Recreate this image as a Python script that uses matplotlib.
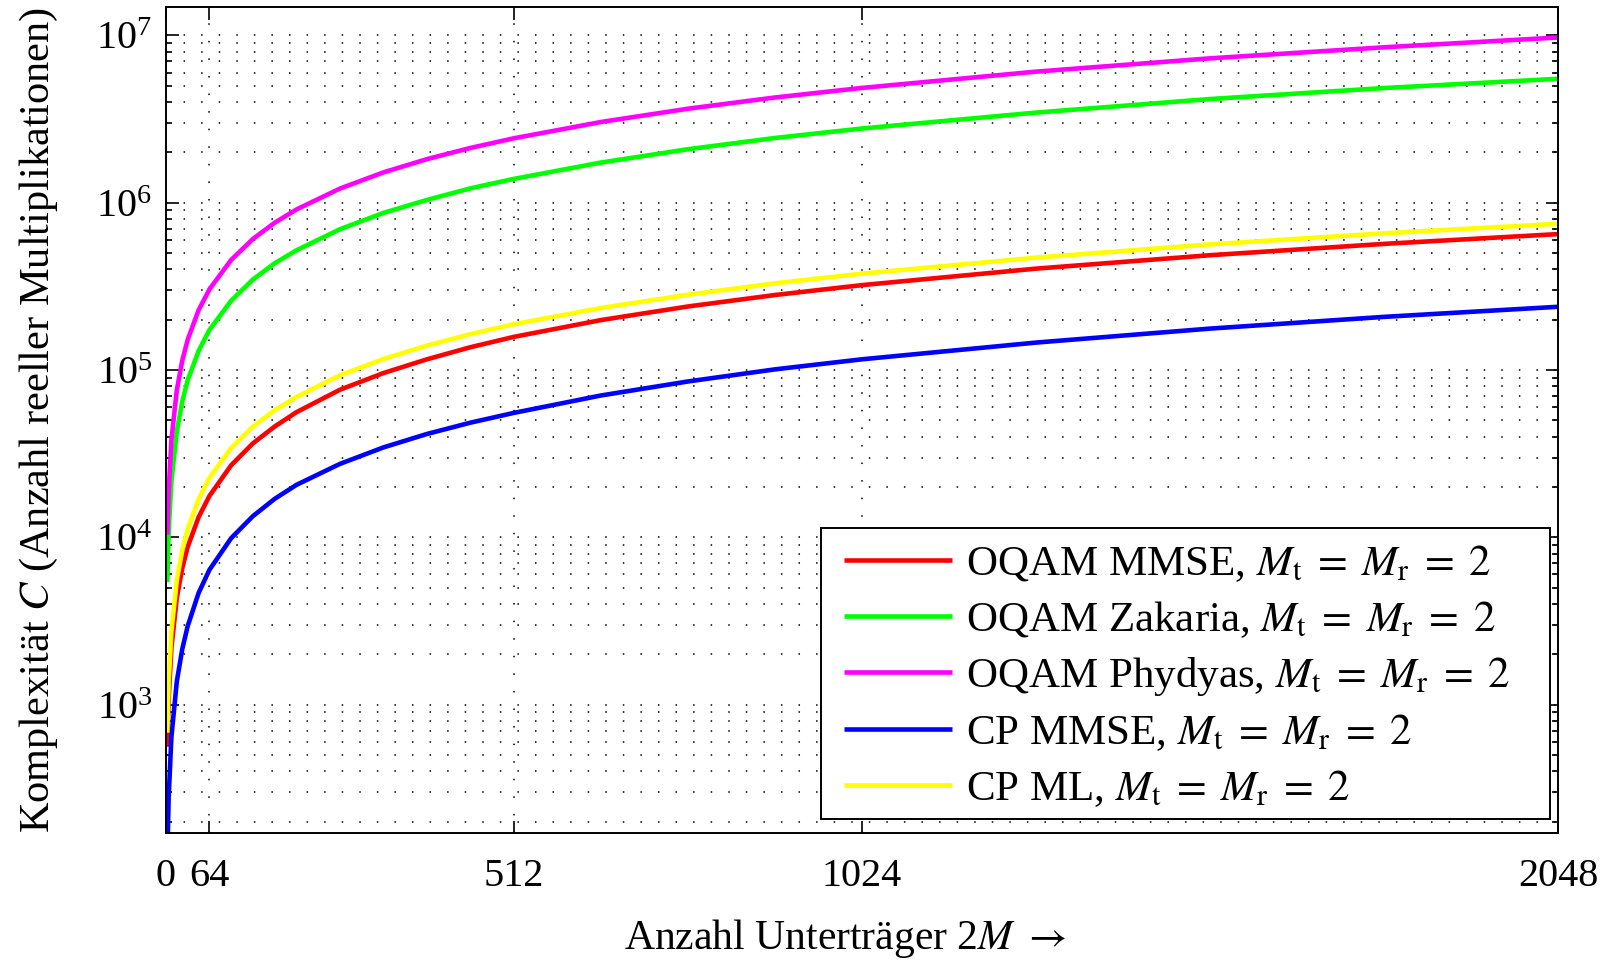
import matplotlib
matplotlib.use("Agg")
import matplotlib.pyplot as plt
from matplotlib.patches import Rectangle
from matplotlib.ticker import LogLocator, NullFormatter, FixedLocator

plt.rcParams['font.family'] = ['Liberation Serif', 'DejaVu Serif']
plt.rcParams['mathtext.fontset'] = 'stix'

# Data
subcarriers = [2, 4, 8, 16, 24, 32, 48, 64, 96, 128, 160, 192, 256, 320, 384, 448,
               512, 640, 768, 896, 1024, 1280, 1536, 1792, 2048]
oqam_mmse = [560, 1.09e3, 2.18e3, 4.35e3, 6.55e3, 8.77e3, 1.32e4, 1.77e4, 2.7e4, 3.65e4,
             4.6e4, 5.6e4, 7.63e4, 9.6e4, 1.16e5, 1.37e5, 1.58e5, 1.99e5, 2.4e5, 2.81e5,
             3.22e5, 4.04e5, 4.86e5, 5.68e5, 6.5e5]
oqam_zakaria = [5.4e3, 1.08e4, 2.16e4, 4.3e4, 6.5e4, 8.7e4, 1.3e5, 1.74e5, 2.6e5, 3.48e5,
                4.35e5, 5.2e5, 6.95e5, 8.7e5, 1.04e6, 1.22e6, 1.39e6, 1.74e6, 2.09e6, 2.44e6,
                2.78e6, 3.46e6, 4.17e6, 4.85e6, 5.51e6]
oqam_phydyas = [1.04e4, 1.9e4, 3.8e4, 7.6e4, 1.14e5, 1.52e5, 2.28e5, 3.04e5, 4.56e5, 6.08e5,
                7.6e5, 9.12e5, 1.216e6, 1.52e6, 1.824e6, 2.128e6, 2.43e6, 3.04e6, 3.65e6, 4.26e6,
                4.86e6, 6.08e6, 7.3e6, 8.5e6, 9.73e6]
cp_mmse = [120, 280, 640, 1.38e3, 2.15e3, 2.95e3, 4.65e3, 6.4e3, 9.9e3, 1.34e4,
           1.7e4, 2.06e4, 2.75e4, 3.45e4, 4.15e4, 4.85e4, 5.55e4, 7.05e4, 8.55e4, 1.01e5,
           1.16e5, 1.46e5, 1.77e5, 2.08e5, 2.39e5]
cp_ml = [680, 1.37e3, 2.75e3, 5.55e3, 8.4e3, 1.12e4, 1.69e4, 2.27e4, 3.42e4, 4.6e4,
         5.75e4, 6.9e4, 9.3e4, 1.165e5, 1.4e5, 1.64e5, 1.88e5, 2.35e5, 2.82e5, 3.3e5,
         3.77e5, 4.7e5, 5.64e5, 6.57e5, 7.49e5]

eq = r'$M_\mathrm{t}\;=\;M_\mathrm{r}\;=\;2$'
labels = ['OQAM MMSE, ' + eq,
          'OQAM Zakaria, ' + eq,
          'OQAM Phydyas, ' + eq,
          'CP MMSE, ' + eq,
          'CP ML, ' + eq]
colors = ['#ff0000', '#00ff00', '#ff00ff', '#0000ff', '#ffff00']
series = [oqam_mmse, oqam_zakaria, oqam_phydyas, cp_mmse, cp_ml]
xticks = [0, 64, 512, 1024, 2048]

fig = plt.figure(figsize=(16.05, 9.6), dpi=100)
ax = fig.add_axes([0.1034, 0.1323, 0.8673, 0.8604])

for ys, c, lab in zip(series, colors, labels):
    ax.plot(subcarriers, ys, color=c, lw=3.3, label=lab, solid_capstyle='butt')

ax.set_yscale('log')
ax.set_xlim(0, 2048)
ax.set_ylim(171, 1.48e7)
ax.xaxis.set_major_locator(FixedLocator(xticks))
ax.set_xticklabels([str(t) for t in xticks])
ax.yaxis.set_major_locator(LogLocator(base=10, numticks=20))
ax.yaxis.set_minor_locator(LogLocator(base=10, subs=range(2, 10), numticks=20))
ax.yaxis.set_minor_formatter(NullFormatter())

dots = (0, (1, 10.5))
ax.grid(True, which='major', axis='both', color='black', lw=1.1, ls=dots)
ax.grid(True, which='minor', axis='y', color='black', lw=1.1, ls=dots)

ax.tick_params(which='both', direction='in', top=True, right=True, labelsize=29, width=1.2)
ax.tick_params(which='major', length=9)
ax.tick_params(which='minor', length=4.5)
ax.tick_params(axis='x', pad=18)
ax.tick_params(axis='y', pad=10)
for s in ax.spines.values():
    s.set_linewidth(1.4)

ax.set_xlabel(r'Anzahl Unterträger 2$M$ $\rightarrow$', fontsize=30, labelpad=16)
ax.xaxis.label.set_x(0.488)
ax.set_ylabel(r'Komplexität $C$ (Anzahl reeller Multiplikationen)', fontsize=30.5, labelpad=26)

# legend box (white background with black frame)
box = Rectangle((0.4709, 0.0174), 0.9941 - 0.4709, 0.369 - 0.0174, transform=ax.transAxes,
                facecolor='white', edgecolor='black', lw=1.4, zorder=4.5)
ax.add_patch(box)
leg = ax.legend(loc='upper left', bbox_to_anchor=(0.487, 0.3508), borderaxespad=0,
                fontsize=31, frameon=False, handlelength=2.5, handletextpad=0.33,
                labelspacing=0.345, borderpad=0)
leg.set_zorder(5)

fig.savefig('out.png', dpi=100)
